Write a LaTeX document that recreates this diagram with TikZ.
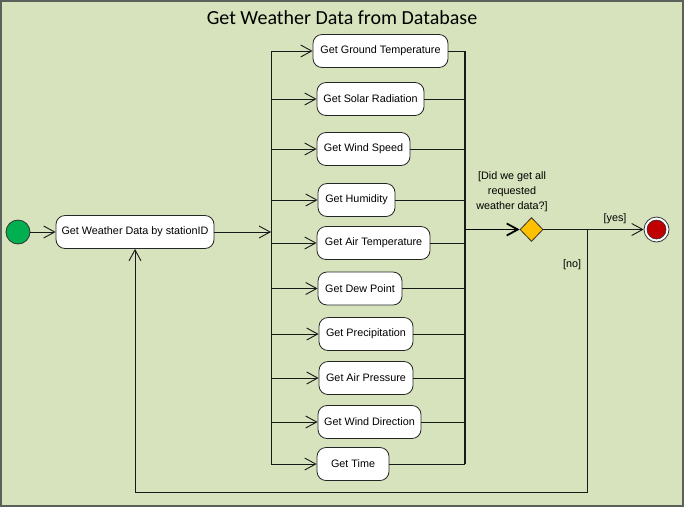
\documentclass[tikz,border=0pt]{standalone}
\usepackage{fontspec}
\setmainfont{Liberation Sans}
\newfontfamily\titlefont{Carlito}
\usetikzlibrary{arrows.meta,shapes.geometric}
\definecolor{bgcol}{HTML}{D7E3BC}
\definecolor{framecol}{HTML}{5A605A}
\definecolor{startgreen}{HTML}{00B050}
\definecolor{endred}{HTML}{C00000}
\definecolor{decisioncol}{HTML}{FFC000}
\begin{document}
\begin{tikzpicture}[x=1pt,y=-1pt,
  act/.style={draw=black!85, fill=white, rounded corners=9pt, minimum height=33pt,
    inner xsep=0pt, font=\fontsize{10.8}{12}\selectfont, line width=0.8pt},
  arr/.style={-{Straight Barb[length=11pt,width=12pt]}},
  ln/.style={line width=0.9pt, draw=black!90},
  lbl/.style={font=\fontsize{10.8}{15}\selectfont, inner sep=0pt}]
\useasboundingbox (0,0) rectangle (684,507);
\fill[bgcol] (0,0) rectangle (684,507);
\draw[framecol, line width=2pt] (1,1) rectangle (683,506);

\node[font=\titlefont\fontsize{20}{24}\selectfont] (title) at (342,18) {Get Weather Data from Database};

% start / end / decision
\node[circle, draw=black!80, fill=startgreen, minimum size=24pt, inner sep=0pt, line width=0.8pt] (start) at (18,232) {};
\node[act, minimum width=158pt] (sid) at (135,232) {Get Weather Data by stationID};
\node[diamond, draw=black!80, fill=decisioncol, minimum width=23pt, minimum height=24pt, inner sep=0pt, line width=0.8pt] (dec) at (531.5,229.5) {};
\node[circle, draw=black!80, fill=white, minimum size=25pt, inner sep=0pt, line width=0.8pt] (endo) at (656.5,229.5) {};
\node[circle, draw=black!80, fill=endred, minimum size=19pt, inner sep=0pt, line width=0.6pt] (endi) at (endo) {};

% actions
\node[act, minimum width=135pt] (gt) at (380.5,51) {Get Ground Temperature};
\node[act, minimum width=107pt] (sr) at (370.5,99) {Get Solar Radiation};
\node[act, minimum width=93pt]  (ws) at (363.5,149) {Get Wind Speed};
\node[act, minimum width=77pt]  (hu) at (356.5,200) {Get Humidity};
\node[act, minimum width=113pt] (at) at (373.5,243) {Get Air Temperature};
\node[act, minimum width=84pt]  (dp) at (360,288.5) {Get Dew Point};
\node[act, minimum width=94pt]  (pr) at (366,334) {Get Precipitation};
\node[act, minimum width=94pt]  (ap) at (366,378) {Get Air Pressure};
\node[act, minimum width=103pt] (wd) at (369.5,422) {Get Wind Direction};
\node[act, minimum width=72pt]  (tm) at (353,464) {Get Time};

% helper coordinates
\coordinate (forkx) at (271,0);
\coordinate (joinx) at (465,0);
\coordinate (br) at (587,229.5);
\coordinate (bot) at (0,492);

% connectors
\draw[ln, arr] (start) -- (sid.west);
\draw[ln, arr] (sid.east) -- (sid.east -| forkx);
\draw[ln] (gt.west -| forkx) -- (tm.west -| forkx);
\draw[ln, line width=1.1pt] (gt.east -| joinx) -- (tm.east -| joinx);
\foreach \n in {gt,sr,ws,hu,at,dp,pr,ap,wd,tm}{
  \draw[ln, arr] (\n.west -| forkx) -- (\n.west);
  \draw[ln] (\n.east) -- (\n.east -| joinx);
}
\draw[line width=1.8pt, arr] (dec.west -| joinx) -- (dec.west);
\draw[ln] (dec.east) -- (br);
\draw[ln, arr] (br) -- (endo.west);
\draw[ln, arr] (br) -- (br |- bot) -- (sid.south |- bot) -- (sid.south);

% labels
\node[lbl, align=center] (q) at (512,192) {[Did we get all\\requested\\weather data?]};
\node[lbl] (yes) at (615,219) {[yes]};
\node[lbl] (no) at (572,265) {[no]};
\end{tikzpicture}
\end{document}
